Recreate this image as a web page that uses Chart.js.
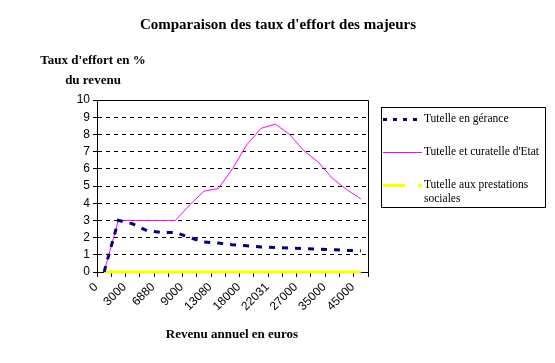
<!DOCTYPE html>
<html>
<head>
<meta charset="utf-8">
<script src="https://cdn.jsdelivr.net/npm/chart.js@4.4.0/dist/chart.umd.min.js"></script>
<style>
  body { margin: 0; background: #fff; }
</style>
</head>
<body>
<canvas id="lineChart" width="555" height="363"></canvas>
<script>
// revenus (une etiquette sur deux est affichee)
const revenus = ['0', '1500', '3000', '5000', '6880', '7500', '9000', '11000', '13080', '15000',
  '18000', '20000', '22031', '25000', '27000', '30000', '35000', '40000', '45000'];

const gerance = [0, 3.0, 2.8, 2.4, 2.3, 2.3, 2.0, 1.75, 1.68, 1.58, 1.52, 1.46, 1.42, 1.4, 1.36, 1.33, 1.3, 1.25, 1.24];
const etat = [0, 3, 3, 3, 3, 3, 3.9, 4.7, 4.85, 6.0, 7.4, 8.35, 8.6, 8.0, 7.05, 6.4, 5.45, 4.8, 4.25];
const prestations = [0, 0, 0, 0, 0, 0, 0, 0, 0, 0, 0, 0, 0, 0, 0, 0, 0, 0, 0];

const yTicks = [0, 1, 2, 3, 4, 5, 6, 7, 8, 9, 10];

const serif = 'Liberation Serif, DejaVu Serif, serif';
const sans = 'Liberation Sans, Arial, sans-serif';

// titres, cadre et legende dessines a la main
const decor = {
  id: 'decor',
  beforeDatasetsDraw(chart) {
    const ctx = chart.ctx;
    const a = chart.chartArea;
    ctx.save();
    ctx.strokeStyle = '#000';
    ctx.lineWidth = 1;
    ctx.beginPath();
    ctx.moveTo(Math.round(a.left) + 0.5, Math.round(a.top) + 0.5);
    ctx.lineTo(Math.round(a.right) + 0.5, Math.round(a.top) + 0.5);
    ctx.lineTo(Math.round(a.right) + 0.5, Math.round(a.bottom) + 0.5);
    ctx.stroke();
    ctx.restore();
  },
  afterDraw(chart) {
    const ctx = chart.ctx;
    ctx.save();
    ctx.fillStyle = '#000';
    ctx.textAlign = 'center';
    ctx.textBaseline = 'middle';
    ctx.font = 'bold 15px ' + serif;
    ctx.fillText('Comparaison des taux d\'effort des majeurs', 278, 25);
    ctx.font = 'bold 13px ' + serif;
    ctx.fillText('Taux d\'effort en %', 93, 61);
    ctx.fillText('du revenu', 93, 81);
    ctx.fillText('Revenu annuel en euros', 232, 335);

    // legende
    ctx.strokeStyle = '#000';
    ctx.lineWidth = 1;
    ctx.strokeRect(381.5, 107.5, 164, 100);
    ctx.font = '11.5px ' + serif;
    ctx.textAlign = 'left';
    const rows = [[119], [152], [185, 199]];
    chart.data.datasets.forEach((ds, i) => {
      const y = rows[i][0];
      ctx.save();
      ctx.strokeStyle = ds.borderColor;
      ctx.lineWidth = ds.borderWidth;
      ctx.setLineDash(ds.legendDash || []);
      ctx.beginPath();
      ctx.moveTo(383, y + 0.5);
      ctx.lineTo(422, y + 0.5);
      ctx.stroke();
      ctx.restore();
      const lines = ds.legendText || [ds.label];
      lines.forEach((t, j) => ctx.fillText(t, 424, rows[i][j]));
    });
    ctx.restore();
  }
};

const ctx1 = document.getElementById('lineChart');
var lineChart = new Chart(ctx1, {
  type: 'line',
  data: {
    labels: revenus,
    datasets: [{
      label: 'Tutelle en gérance',
      data: gerance,
      borderColor: '#000080',
      borderWidth: 3,
      borderDash: [6, 7],
      legendDash: [4, 6]
    }, {
      label: 'Tutelle et curatelle d\'Etat',
      data: etat,
      borderColor: '#FF00FF',
      borderWidth: 1
    }, {
      label: 'Tutelle aux prestations sociales',
      legendText: ['Tutelle aux prestations', 'sociales'],
      data: prestations,
      borderColor: '#FFFF00',
      borderWidth: 3,
      clip: false,
      legendDash: [22, 13]
    }]
  },
  options: {
    responsive: false,
    animation: false,
    layout: { padding: { top: 100, right: 187, left: 0, bottom: 0 } },
    elements: { point: { radius: 0 }, line: { tension: 0 } },
    plugins: {
      legend: { display: false },
      tooltip: { enabled: false }
    },
    scales: {
      x: {
        offset: true,
        grid: { offset: true, drawOnChartArea: false, color: '#000', tickLength: 5 },
        border: { color: '#000' },
        ticks: {
          autoSkip: false,
          minRotation: 45,
          maxRotation: 45,
          padding: 3,
          labelOffset: -8,
          color: '#000',
          font: { family: sans, size: 12 },
          callback: function (v, i) { return i % 2 === 0 ? this.getLabelForValue(v) : ''; }
        },
        afterFit: (s) => { s.height = 91; }
      },
      y: {
        min: 0,
        max: 10,
        afterBuildTicks: (s) => { s.ticks = yTicks.map(v => ({ value: v })); },
        grid: { color: '#000', tickLength: 4 },
        border: { color: '#000', dash: [4, 4] },
        ticks: { color: '#000', padding: 3, autoSkip: false, stepSize: 1, font: { family: sans, size: 12 } },
        afterFit: (s) => { s.width = 97; }
      }
    }
  },
  plugins: [decor]
});
</script>
</body>
</html>
